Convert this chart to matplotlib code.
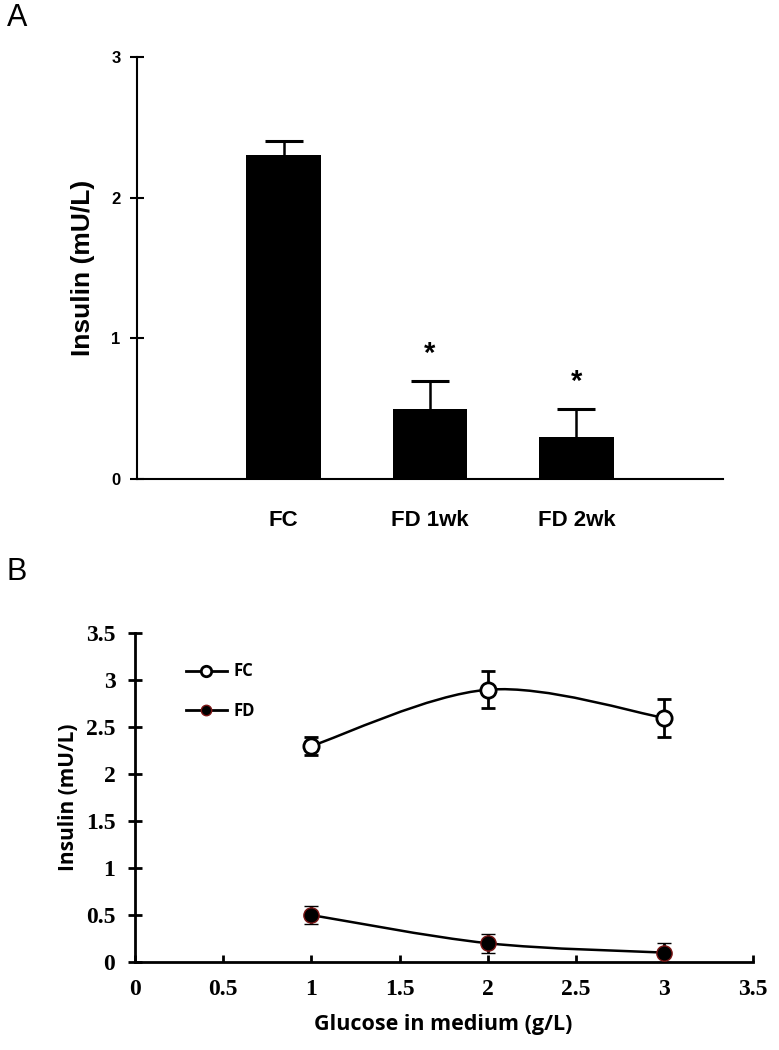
import matplotlib
matplotlib.use("Agg")
import matplotlib.pyplot as plt
from matplotlib.path import Path
from matplotlib.patches import PathPatch
from matplotlib.lines import Line2D
import numpy as np

# Panel A: insulin by group
groups = ["FC", "FD 1wk", "FD 2wk"]
insulin_a = [2.3, 0.5, 0.3]
err_a = [0.1, 0.2, 0.2]
signif_a = ["", "*", "*"]

# Panel B: insulin vs glucose in medium
glucose = [1, 2, 3]
fc_vals = [2.3, 2.9, 2.6]
fc_err = [0.1, 0.2, 0.2]
fd_vals = [0.5, 0.2, 0.1]
fd_err = [0.1, 0.1, 0.1]


def smooth_path(xs, ys):
    # Excel-style smoothed line (Catmull-Rom as cubic Bezier)
    pts = np.column_stack([xs, ys]).astype(float)
    ext = np.vstack([pts[0], pts, pts[-1]])
    verts = [tuple(pts[0])]
    codes = [Path.MOVETO]
    for i in range(1, len(ext) - 2):
        p0, p1, p2, p3 = ext[i - 1], ext[i], ext[i + 1], ext[i + 2]
        c1 = p1 + (p2 - p0) / 6
        c2 = p2 - (p3 - p1) / 6
        verts += [tuple(c1), tuple(c2), tuple(p2)]
        codes += [Path.CURVE4] * 3
    return Path(verts, codes)


fig = plt.figure(figsize=(7.79, 10.5), dpi=100)

# ---------- A ----------
ax1 = fig.add_axes([0.176, 0.5438, 0.752, 0.402])
x = np.arange(len(groups))
ax1.bar(x, insulin_a, width=0.51, color="black", zorder=2)
_, caps, _ = ax1.errorbar(x, insulin_a, yerr=[np.zeros(3), err_a], fmt="none",
                          ecolor="black", elinewidth=1.8, capsize=14,
                          capthick=2.2, zorder=1)
caps[0].remove()  # only upper caps
for xi, m, e, s in zip(x, insulin_a, err_a, signif_a):
    if s:
        ax1.text(xi, m + e + 0.19, s, ha="center", va="center",
                 fontsize=21, fontweight="bold", family="Liberation Sans")
ax1.set_xlim(-1, 3)
ax1.set_ylim(0, 3)
ax1.set_yticks([0, 1, 2, 3])
ax1.set_xticks(x)
ax1.set_xticklabels(groups, fontsize=16, fontweight="bold", family="Liberation Sans")
for lbl in ax1.get_yticklabels():
    lbl.set_fontsize(12)
    lbl.set_fontweight("bold")
    lbl.set_family("Liberation Sans")
ax1.tick_params(axis="x", length=0, pad=22)
ax1.tick_params(axis="y", direction="inout", length=10, width=1.5, pad=7)
ax1.spines["top"].set_visible(False)
ax1.spines["right"].set_visible(False)
ax1.spines["left"].set_linewidth(1.5)
ax1.spines["bottom"].set_linewidth(1.5)
ax1.set_ylabel("Insulin (mU/L)", fontsize=19, fontweight="bold",
               family="Liberation Sans", labelpad=12)
fig.text(0.009, 0.983, "A", fontsize=22, family="Liberation Sans", va="center")

# ---------- B ----------
ax2 = fig.add_axes([0.173, 0.0838, 0.793, 0.313])
ax2.add_patch(PathPatch(smooth_path(glucose, fc_vals), facecolor="none",
                        edgecolor="black", lw=1.8, zorder=2))
ax2.add_patch(PathPatch(smooth_path(glucose, fd_vals), facecolor="none",
                        edgecolor="black", lw=1.8, zorder=2))
ax2.errorbar(glucose, fc_vals, yerr=fc_err, fmt="o", color="black",
             mfc="white", mec="black", mew=2, ms=11, elinewidth=2,
             capsize=5, capthick=2, zorder=3)
ax2.errorbar(glucose, fd_vals, yerr=fd_err, fmt="o", color="black",
             mfc="black", mec="#7a1515", mew=1, ms=11, elinewidth=2,
             capsize=5, capthick=2, zorder=3)
ax2.set_xlim(0, 3.5)
ax2.set_ylim(0, 3.5)
ax2.set_xticks(np.arange(0, 3.51, 0.5))
ax2.set_yticks(np.arange(0, 3.51, 0.5))
ax2.set_xticklabels(["0", "0.5", "1", "1.5", "2", "2.5", "3", "3.5"])
ax2.set_yticklabels(["0", "0.5", "1", "1.5", "2", "2.5", "3", "3.5"])
for lbl in ax2.get_xticklabels() + ax2.get_yticklabels():
    lbl.set_fontsize(17)
    lbl.set_fontweight("bold")
    lbl.set_family("Liberation Serif")
ax2.tick_params(axis="y", direction="inout", length=10, width=2, pad=9)
ax2.tick_params(axis="x", direction="in", length=5, width=2, pad=12)
ax2.spines["top"].set_visible(False)
ax2.spines["right"].set_visible(False)
ax2.spines["left"].set_linewidth(2)
ax2.spines["bottom"].set_linewidth(2)
ax2.set_ylabel("Insulin (mU/L)", fontsize=15, fontweight="bold",
               family="Open Sans", labelpad=5)
ax2.set_xlabel("Glucose in medium (g/L)", fontsize=15.5, fontweight="bold",
               family="Open Sans", labelpad=10)

handles = [
    Line2D([], [], color="black", lw=2, marker="o", ms=7.5, mfc="white",
           mec="black", mew=2),
    Line2D([], [], color="black", lw=2, marker="o", ms=7.5, mfc="black",
           mec="#7a1515", mew=1),
]
ax2.legend(handles, ["FC", "FD"], loc="upper left",
           bbox_to_anchor=(0.058, 0.957), frameon=False, handlelength=2.5,
           handletextpad=0.4, labelspacing=1.3,
           prop={"family": "Open Sans", "weight": "bold", "size": 12})
fig.text(0.008, 0.455, "B", fontsize=22, family="Liberation Sans", va="center")

fig.savefig("out.png", dpi=100)
